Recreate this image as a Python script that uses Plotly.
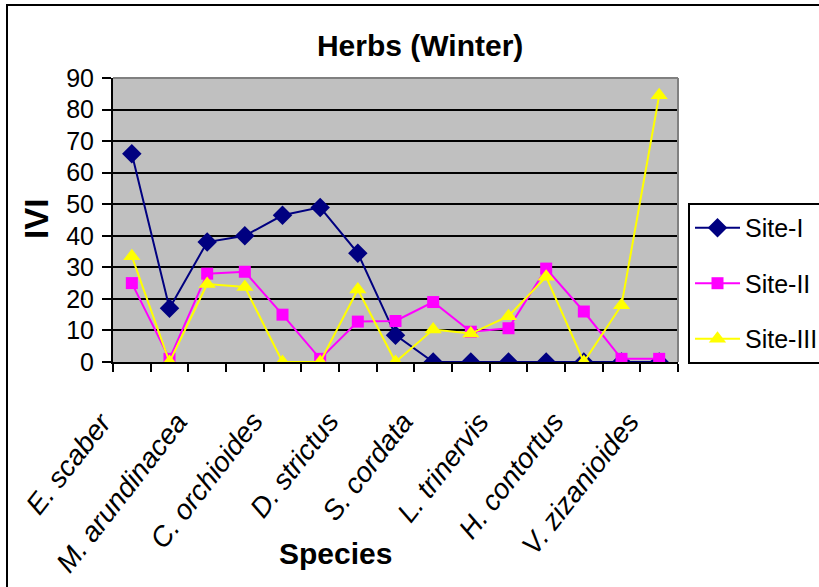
import plotly.graph_objects as go

# 15 species on the x axis, only every other one is labelled in the original
species_labels = ["E. scaber", "M. arundinacea", "C. orchioides", "D. strictus",
                  "S. cordata", "L. trinervis", "H. contortus", "V. zizanioides"]
x_pos = list(range(15))
label_pos = x_pos[::2]

site1 = [66, 17, 38, 40, 46.5, 49, 34.5, 8.5, 0, 0, 0, 0, 0, 0, 0]
site2 = [25, 1, 28, 28.6, 15, 1, 12.8, 13, 19, 9.6, 10.7, 29.6, 16, 1, 1]
site3 = [33.5, 0, 24.7, 23.8, 0, 0, 23, 0, 10.3, 9, 14.5, 27, 0, 18, 84.5]

FONT = "Liberation Sans, Arial, sans-serif"

fig = go.Figure()
fig.add_trace(go.Scatter(x=x_pos, y=site1, name="Site-I", mode="lines+markers",
                         legendgroup="a",
                         line=dict(color="#000080", width=2),
                         marker=dict(symbol="diamond", size=15, color="#000080")))
fig.add_trace(go.Scatter(x=x_pos, y=site2, name="Site-II", mode="lines+markers",
                         legendgroup="b",
                         line=dict(color="#FF00FF", width=2),
                         marker=dict(symbol="square", size=12, color="#FF00FF")))
fig.add_trace(go.Scatter(x=x_pos, y=site3, name="Site-III", mode="lines+markers",
                         legendgroup="c",
                         line=dict(color="#FFFF00", width=2),
                         marker=dict(symbol="triangle-up", size=15, color="#FFFF00")))

fig.update_xaxes(
    range=[-0.5, 14.5],
    tickvals=label_pos,
    showticklabels=False,
    ticks="",
    showgrid=False,
    zeroline=False,
    automargin=False,
    showline=True, linecolor="black", linewidth=2,
    minor=dict(tick0=-0.5, dtick=1, ticks="outside", ticklen=8,
               tickcolor="black", tickwidth=2, showgrid=False),
)
fig.update_yaxes(
    range=[0, 90],
    dtick=10,
    tickfont=dict(family=FONT, size=25, color="black"),
    ticks="outside", ticklen=9, tickcolor="black", tickwidth=2,
    ticklabelstandoff=3,
    showgrid=True, gridcolor="black", gridwidth=2,
    zeroline=False,
    automargin=False,
    showline=True, linecolor="black", linewidth=2,
)

# slanted species labels, right/top end just left of each category
label_notes = [
    dict(text=name, xref="x", yref="paper", x=p, y=(362 - 404) / 284,
         xanchor="right", yanchor="top", xshift=-11, showarrow=False,
         textangle=-52,
         font=dict(family=FONT, size=28, color="black", style="italic"))
    for name, p in zip(species_labels, label_pos)
]

fig.update_layout(
    width=819, height=587,
    margin=dict(l=113, r=141, t=78, b=225, autoexpand=False),
    plot_bgcolor="#C0C0C0",
    paper_bgcolor="white",
    showlegend=True,
    title=dict(text="<b>Herbs (Winter)</b>", x=0.513, xanchor="center",
               y=0.922, yanchor="middle",
               font=dict(family=FONT, size=30, color="black")),
    legend=dict(x=1.0177, xanchor="left", y=0.56, yanchor="top",
                bordercolor="black", borderwidth=2, bgcolor="white",
                font=dict(family=FONT, size=25, color="black"),
                tracegroupgap=20, itemwidth=45),
    annotations=label_notes + [
        dict(text="<b>IVI</b>", xref="paper", yref="paper",
             x=(36 - 113) / 565, y=(362 - 219) / 284, showarrow=False,
             xanchor="center", yanchor="middle",
             textangle=-90, font=dict(family=FONT, size=33, color="black")),
        dict(text="<b>Species</b>", xref="paper", yref="paper",
             x=(335 - 113) / 565, y=(362 - 553) / 284, showarrow=False,
             xanchor="center", yanchor="middle",
             font=dict(family=FONT, size=30, color="black")),
    ],
    shapes=[
        # outer chart frame
        dict(type="rect", xref="paper", yref="paper", x0=(7 - 113) / 565, x1=1.5,
             y0=-1.0, y1=(362 - 5) / 284, line=dict(color="black", width=2)),
        # grey plot-area border on top and right
        dict(type="line", xref="paper", yref="paper", x0=0, x1=1, y0=1, y1=1,
             line=dict(color="#808080", width=2)),
        dict(type="line", xref="paper", yref="paper", x0=1, x1=1, y0=0, y1=1,
             line=dict(color="#808080", width=2)),
    ],
)

fig.write_html("out.html", config={"displayModeBar": False},
               post_script="document.body.style.margin='0';")
